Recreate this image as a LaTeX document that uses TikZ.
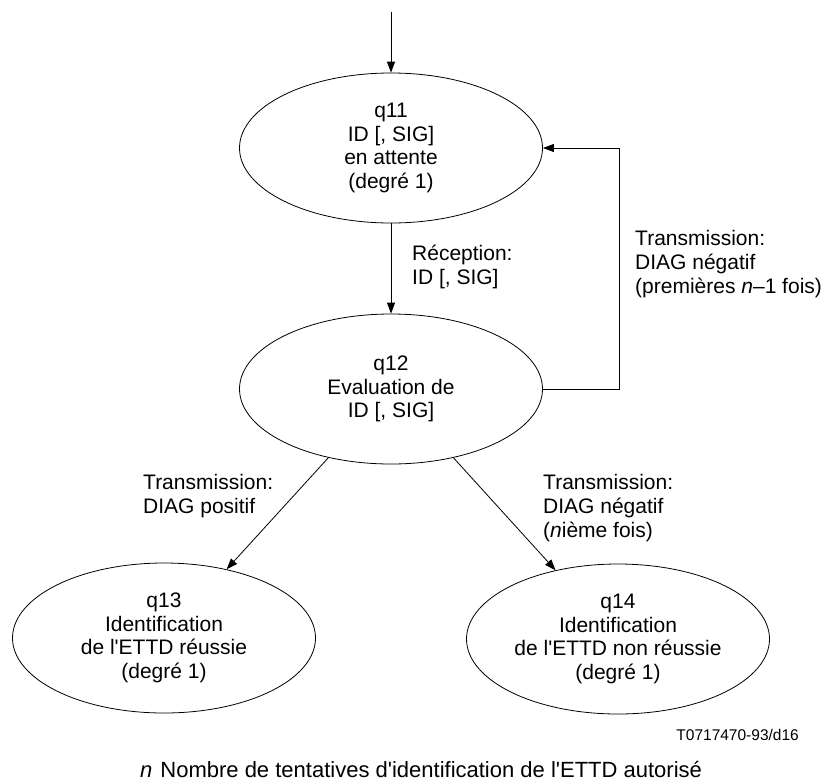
\documentclass[tikz,border=0pt]{standalone}
\usepackage{fontspec}
\newfontfamily\arialfont{Liberation Sans}
\usetikzlibrary{arrows.meta,positioning,shapes}

\tikzset{
  etat/.style={draw,ellipse,line width=0.8pt,minimum width=303pt,minimum height=150pt,
    inner sep=0pt,align=center,font=\arialfont\fontsize{21}{23.6}\selectfont},
  etiq/.style={anchor=west,align=left,inner sep=0pt,font=\arialfont\fontsize{21}{24}\selectfont},
  fleche/.style={line width=0.8pt,-{Triangle[length=11pt,width=8pt]}}
}

\begin{document}
\begin{tikzpicture}[x=1pt,y=-1pt]
\useasboundingbox (0,0) rectangle (824,780);
% les etats
\node[etat] (q11) at (391,148) {q11\\ID [, SIG]\\en attente\\(degré 1)};
\node[etat] (q12) at (391,389) {q12\\Evaluation de\\ID [, SIG]};
\node[etat] (q13) at (164,638) {q13\\Identification\\de l'ETTD réussie\\(degré 1)};
\node[etat] (q14) at (618,639) {q14\\Identification\\de l'ETTD non réussie\\(degré 1)};
\coordinate (debut) at (391,12);
% les transitions
\draw[fleche] (debut) -- (q11);
\draw[fleche] (q11) -- (q12);
\draw[fleche] (q12.east) -- ++(76,0) |- (q11.east);
\draw[fleche] (q12) -- (q13);
\draw[fleche] (q12) -- (q14);
\node[etiq] (recep) at (412,267) {Réception:\\ID [, SIG]};
\node[etiq] (repete) at (635,264) {Transmission:\\DIAG négatif\\(premières \textit{n}–1 fois)};
\node[etiq] (positif) at (143,496) {Transmission:\\DIAG positif};
\node[etiq] (nieme) at (543,508) {Transmission:\\DIAG négatif\\(\textit{n}ième fois)};
% renvois
\node[anchor=east,inner sep=0pt,font=\arialfont\fontsize{15.5}{18}\selectfont] (ref) at (799,735) {T0717470-93/d16};
\node[anchor=base west,inner sep=0pt,font=\arialfont\fontsize{22}{24}\selectfont] (note) at (140,777)
  {\textit{n}\hspace{8pt}Nombre de tentatives d'identification de l'ETTD autorisé};
\end{tikzpicture}
\end{document}
